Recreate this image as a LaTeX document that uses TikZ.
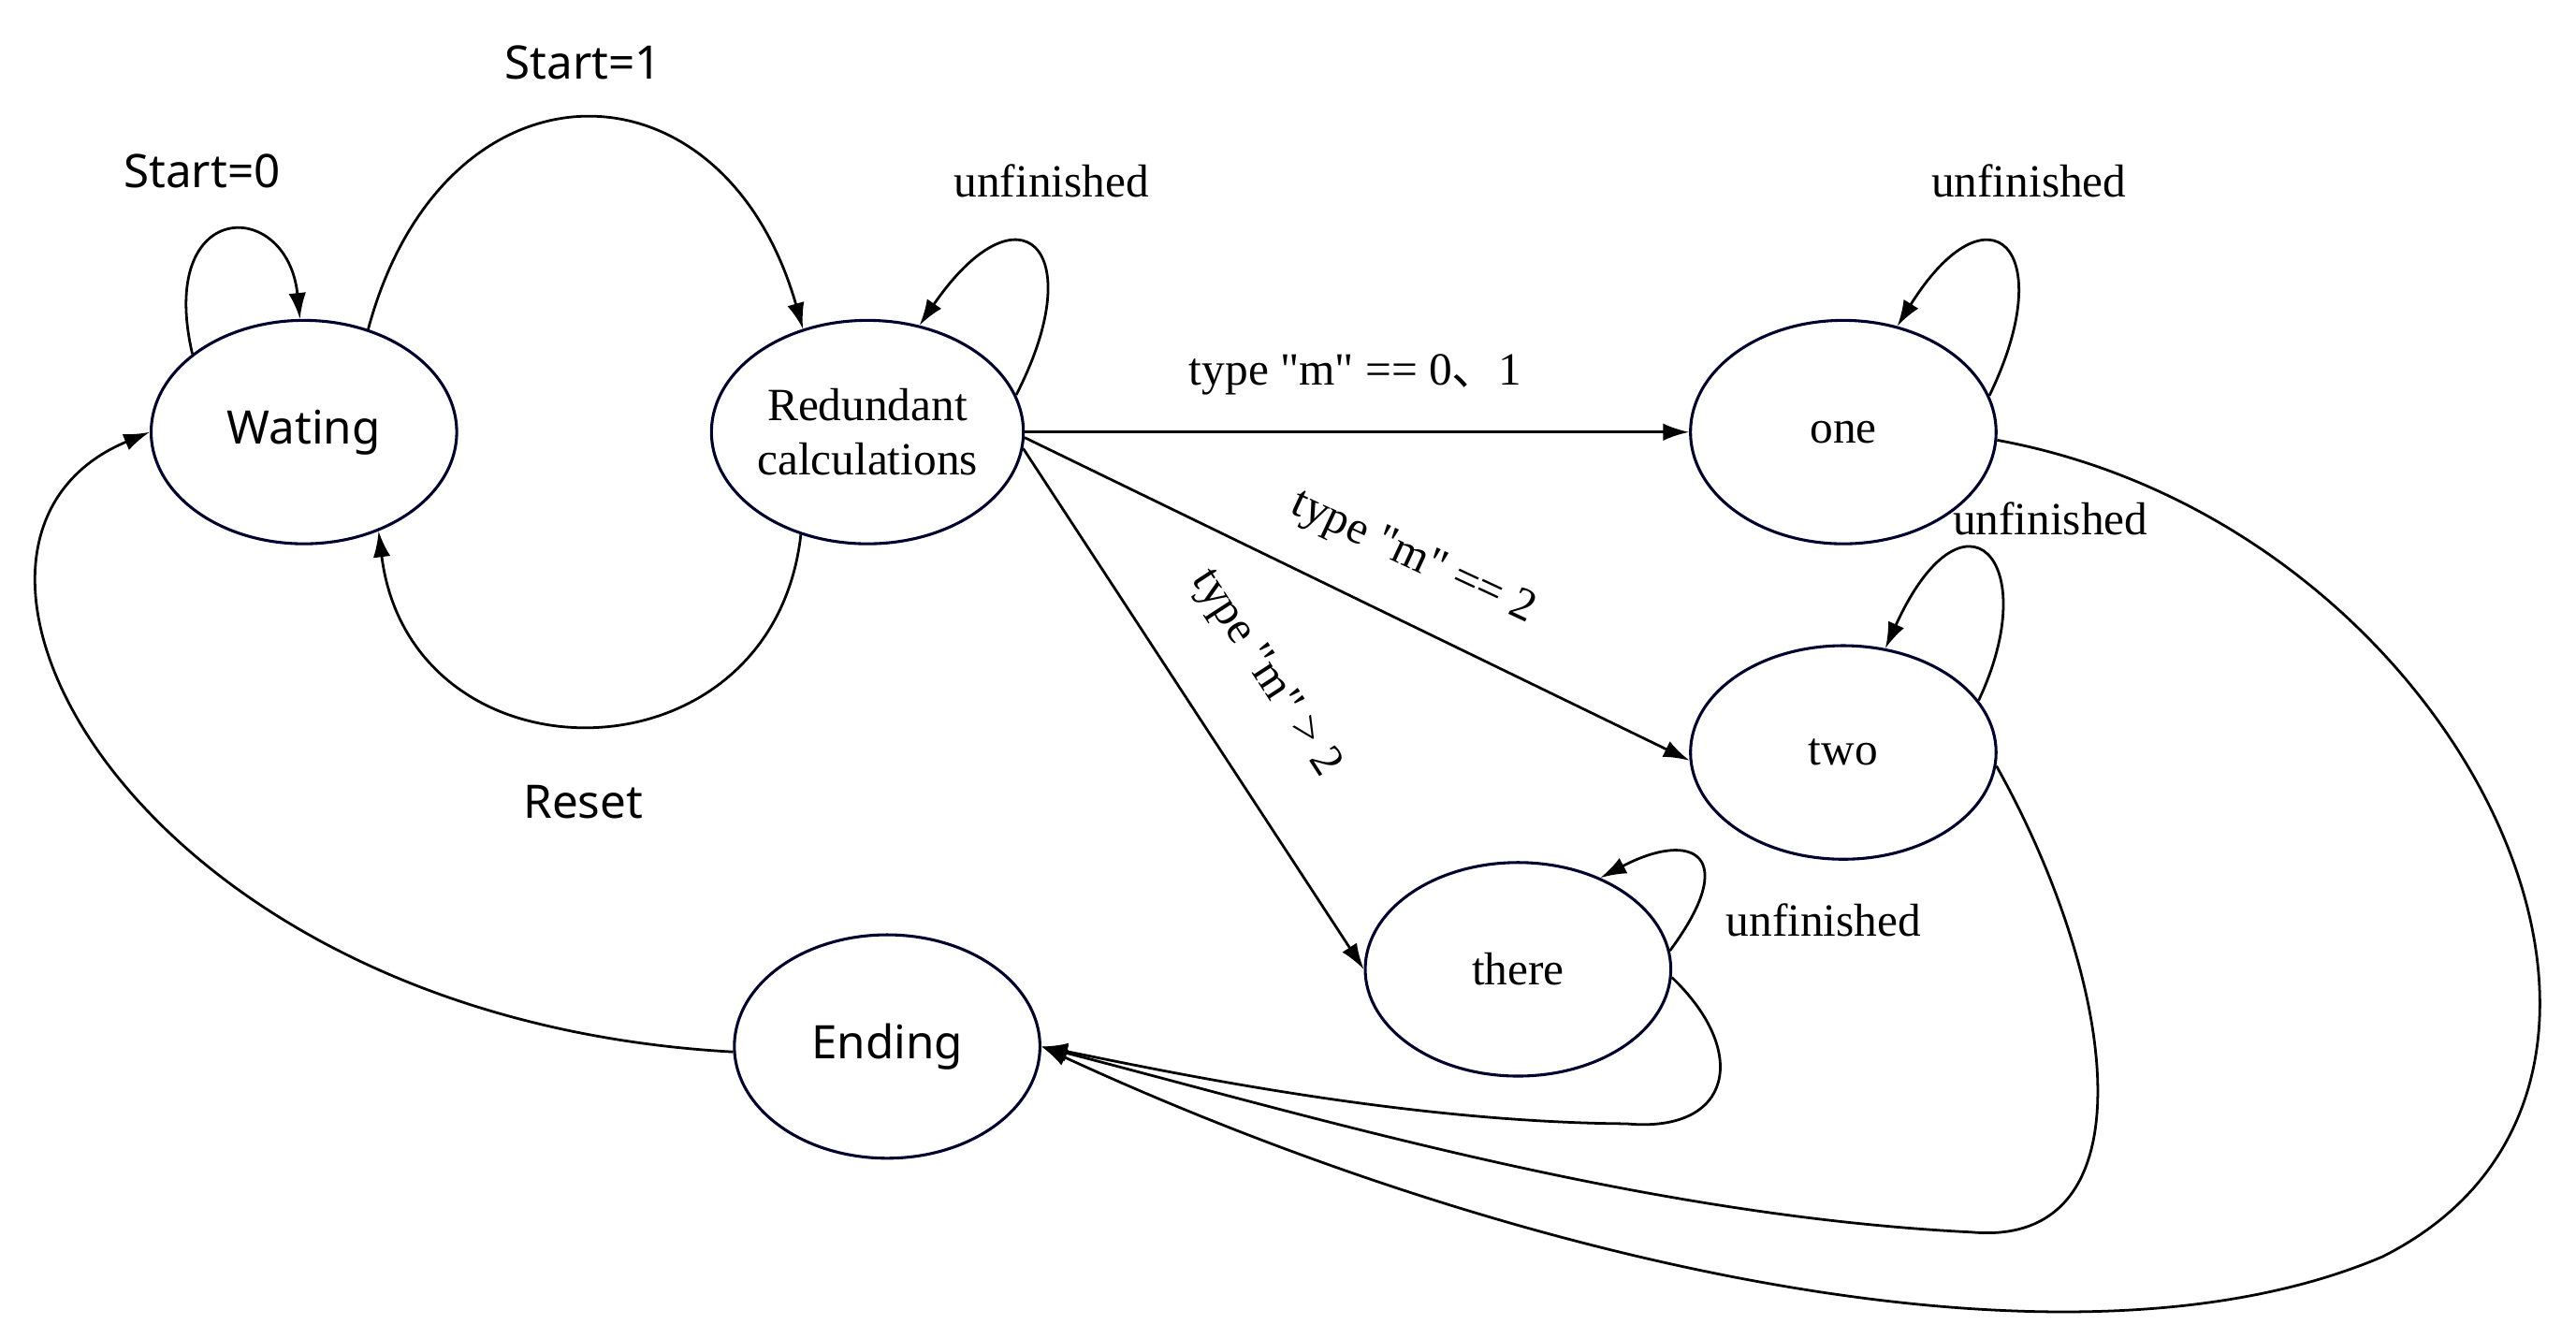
\documentclass[tikz,border=0pt]{standalone}
\usepackage{fontspec}
\setmainfont{Liberation Serif}[Ligatures=TeXReset]
\newfontfamily\sansf{Noto Sans}
\newfontfamily\cjk{Noto Sans CJK SC}
\usetikzlibrary{shapes.geometric,arrows.meta}
\newcommand{\dq}{\symbol{34}}
\begin{document}
\begin{tikzpicture}[x=0.02cm,y=-0.02cm,
  st/.style={ellipse,draw=black!70!blue!60!black,line width=1pt,minimum width=186*0.02cm,minimum height=136*0.02cm,font=\fontsize{16}{19}\selectfont,align=center,inner sep=0pt},
  ar/.style={line width=0.9pt,-{Latex[length=9pt,width=6pt]}},
  lb/.style={font=\fontsize{16}{19}\selectfont},
  ls/.style={font=\sansf\fontsize{16}{19}\selectfont}]
\useasboundingbox (0,0) rectangle (1568,815);
\node[st,font=\sansf\fontsize{16}{19}\selectfont] (w) at (185,263) {Wating};
\node[st] (r) at (528,263) {Redundant\\calculations};
\node[st] (o) at (1122,263) {one};
\node[st,minimum height=130*0.02cm] (tw) at (1122,458) {two};
\node[st,minimum height=130*0.02cm] (th) at (924,590) {there};
\node[st,font=\sansf\fontsize{16}{19}\selectfont] (en) at (540,637) {Ending};

\draw[ar] (w.145) .. controls (95,120) and (175,120) .. (w.92);
\node[ls] (l0) at (123,104) {Start=0};
\draw[ar] (w.58) .. controls (270,30) and (440,30) .. (r.122);
\node[ls] (l1) at (355,38) {Start=1};
\draw[ar] (r.237) .. controls (470,480) and (250,480) .. (w.307);
\node[ls] (l2) at (355,488) {Reset};
\draw[ar] (r.14) .. controls (665,150) and (620,110) .. (r.64);
\node[lb] (l3) at (640,110) {unfinished};
\draw[ar] (o.14) .. controls (1255,150) and (1210,110) .. (o.63);
\node[lb] (l4) at (1235,110) {unfinished};
\draw[ar] (tw.21) .. controls (1245,340) and (1195,290) .. (tw.68);
\node[lb] (l5) at (1248,316) {unfinished};
\draw[ar] (th.7) .. controls (1060,520) and (1030,505) .. (th.48);
\node[lb] (l6) at (1110,560) {unfinished};

\draw[ar] (r.east) -- (o.west);
\node[lb] (l7) at (825,228) {type \dq m\dq\ == 0{\cjk 、}1};
\draw[ar] (r.-2) -- (tw.183);
\node[lb,rotate=-25] (l8) at (860,340) {type \dq m\dq\ == 2};
\draw[ar] (r.-6) -- (th.west);
\node[lb,rotate=-57] (l9) at (770,410) {type \dq m\dq\ > 2};

\draw[ar] (th.-3) .. controls (1065,640) and (1055,690) .. (990,684) .. controls (850,683) and (700,650) .. (en.east);
\draw[ar] (tw.-5) .. controls (1290,600) and (1310,760) .. (1200,750) .. controls (1000,740) and (800,680) .. (en.east);
\draw[ar] (o.-3) .. controls (1500,320) and (1660,660) .. (1450,765) .. controls (1250,850) and (900,760) .. (en.east);
\draw[ar] (en.182) .. controls (80,620) and (-70,330) .. (w.west);
\end{tikzpicture}
\end{document}
